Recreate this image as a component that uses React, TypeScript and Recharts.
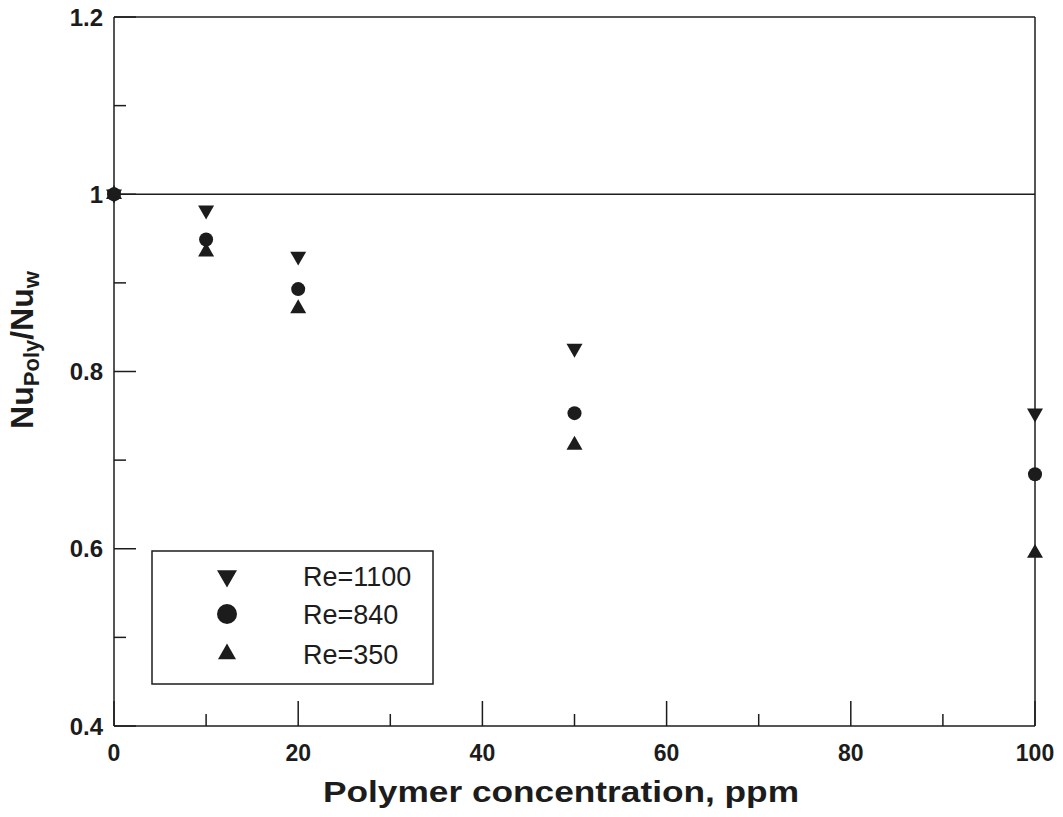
import { ScatterChart, Scatter, XAxis, YAxis, ReferenceLine, Legend, Customized } from 'recharts';

// polymer concentration (ppm) and Nu_poly / Nu_w ratios
const concentration = [0, 10, 20, 50, 100];
const re1100 = [1.0, 0.982, 0.93, 0.826, 0.753];
const re840 = [1.0, 0.949, 0.893, 0.753, 0.684];
const re350 = [1.0, 0.935, 0.871, 0.717, 0.595];

const xTicks = [0, 10, 20, 30, 40, 50, 60, 70, 80, 90, 100];
const xLabels = [0, 20, 40, 60, 80, 100];
const yTicks = [0.4, 0.5, 0.6, 0.7, 0.8, 0.9, 1, 1.1, 1.2];
const yLabels = [0.4, 0.6, 0.8, 1, 1.2];

const INK = '#1c1c1c';
const FONT = '"Liberation Sans", Arial, sans-serif';
const MAJOR = 22;
const MINOR = 12;

const toPoints = (ys: number[]) => concentration.map((x, i) => ({ x, y: ys[i] }));
const isMajor = (list: number[], v: number) => list.some((m) => Math.abs(m - v) < 1e-6);

function downTri(cx: number, cy: number, s: number) {
  const h = s * 0.87;
  return `M${cx - s / 2},${cy - h / 3}L${cx + s / 2},${cy - h / 3}L${cx},${cy + (2 * h) / 3}Z`;
}
function upTri(cx: number, cy: number, s: number) {
  const h = s * 0.87;
  return `M${cx - s / 2},${cy + h / 3}L${cx + s / 2},${cy + h / 3}L${cx},${cy - (2 * h) / 3}Z`;
}

const DownMark = (p: any) => <path d={downTri(p.cx, p.cy, 16)} fill={INK} />;
const CircleMark = (p: any) => <circle cx={p.cx} cy={p.cy} r={7} fill={INK} />;
const UpMark = (p: any) => <path d={upTri(p.cx, p.cy, 16)} fill={INK} />;

const series = [
  { name: 'Re=1100', data: toPoints(re1100), shape: DownMark, legend: (x: number, y: number) => <path d={downTri(x, y, 20)} fill={INK} /> },
  { name: 'Re=840', data: toPoints(re840), shape: CircleMark, legend: (x: number, y: number) => <circle cx={x} cy={y} r={10} fill={INK} /> },
  { name: 'Re=350', data: toPoints(re350), shape: UpMark, legend: (x: number, y: number) => <path d={upTri(x, y, 18)} fill={INK} /> },
];
const legendRows = [26, 64, 104];

const BottomTick = ({ x, y, payload }: any) => {
  const major = isMajor(xLabels, payload.value);
  return (
    <g>
      <line x1={x} x2={x} y1={y} y2={y - (major ? MAJOR + 3 : MINOR)} stroke={INK} strokeWidth={1.5} />
      {major && (
        <text x={x} y={y + 35} textAnchor="middle" fontFamily={FONT} fontSize={23} fontWeight="bold" fill={INK}>
          {payload.value}
        </text>
      )}
    </g>
  );
};

const TopTick = ({ x, y, payload }: any) => {
  const major = isMajor(xLabels, payload.value);
  return <line x1={x} x2={x} y1={y} y2={y + (major ? MAJOR : MINOR)} stroke={INK} strokeWidth={1.5} />;
};

const LeftTick = ({ x, y, payload }: any) => {
  const major = isMajor(yLabels, payload.value);
  return (
    <g>
      <line x1={x} x2={x + (major ? MAJOR : MINOR)} y1={y} y2={y} stroke={INK} strokeWidth={1.5} />
      {major && (
        <text x={x - 11} y={y} dy="0.36em" textAnchor="end" fontFamily={FONT} fontSize={24} fontWeight="bold" fill={INK}>
          {payload.value}
        </text>
      )}
    </g>
  );
};

const RightTick = ({ x, y, payload }: any) => {
  const major = isMajor(yLabels, payload.value);
  return <line x1={x} x2={x - (major ? MAJOR : MINOR)} y1={y} y2={y} stroke={INK} strokeWidth={1.5} />;
};

const Titles = () => (
  <g fontFamily={FONT} fontWeight="bold" fill={INK}>
    <text x={561} y={802} textAnchor="middle" fontSize={29} textLength={476} lengthAdjust="spacingAndGlyphs">
      Polymer concentration, ppm
    </text>
    <text transform="translate(33, 350) rotate(-90)" textAnchor="middle" fontSize={32}>
      Nu
      <tspan fontSize={22} dy={6}>Poly</tspan>
      <tspan dy={-6}>/Nu</tspan>
      <tspan fontSize={22} dy={6}>w</tspan>
    </text>
  </g>
);

const LegendBox = () => (
  <svg width={284} height={136} style={{ display: 'block' }}>
    <rect x={1} y={1} width={281} height={133} fill="#fff" stroke={INK} strokeWidth={1.5} />
    {series.map((s, i) => (
      <g key={s.name}>
        {s.legend(76, legendRows[i])}
        <text x={152} y={legendRows[i]} dy="0.36em" fontFamily={FONT} fontSize={27} fill={INK}>
          {s.name}
        </text>
      </g>
    ))}
  </svg>
);

export default function App() {
  const axisLine = { stroke: INK, strokeWidth: 1.5 };
  return (
    <div style={{ position: 'absolute', left: 0, top: 0, background: '#fff' }}>
      <ScatterChart width={1063} height={817} margin={{ top: 0, right: 0, bottom: 0, left: 0 }}>
        <XAxis
          xAxisId="b" type="number" dataKey="x" domain={[0, 100]} ticks={xTicks} interval={0}
          orientation="bottom" height={91} tickSize={0} tickMargin={0} tickLine={false}
          axisLine={axisLine} tick={BottomTick}
        />
        <XAxis
          xAxisId="t" type="number" dataKey="x" domain={[0, 100]} ticks={xTicks} interval={0}
          orientation="top" height={17} tickSize={0} tickMargin={0} tickLine={false}
          axisLine={axisLine} tick={TopTick}
        />
        <YAxis
          yAxisId="l" type="number" dataKey="y" domain={[0.4, 1.2]} ticks={yTicks} interval={0}
          width={114} tickSize={0} tickMargin={0} tickLine={false}
          axisLine={axisLine} tick={LeftTick}
        />
        <YAxis
          yAxisId="r" type="number" dataKey="y" domain={[0.4, 1.2]} ticks={yTicks} interval={0}
          orientation="right" width={28} tickSize={0} tickMargin={0} tickLine={false}
          axisLine={axisLine} tick={RightTick}
        />
        <ReferenceLine xAxisId="b" yAxisId="l" y={1} stroke={INK} strokeWidth={1.5} />
        {series.map((s) => (
          <Scatter
            key={s.name} name={s.name} xAxisId="b" yAxisId="l" data={s.data}
            fill={INK} shape={s.shape} isAnimationActive={false}
          />
        ))}
        <Legend
          layout="vertical" align="center" verticalAlign="middle"
          wrapperStyle={{ left: 151, top: 550, width: 284, height: 136 }}
          content={LegendBox}
        />
        <Customized component={Titles} />
      </ScatterChart>
    </div>
  );
}
